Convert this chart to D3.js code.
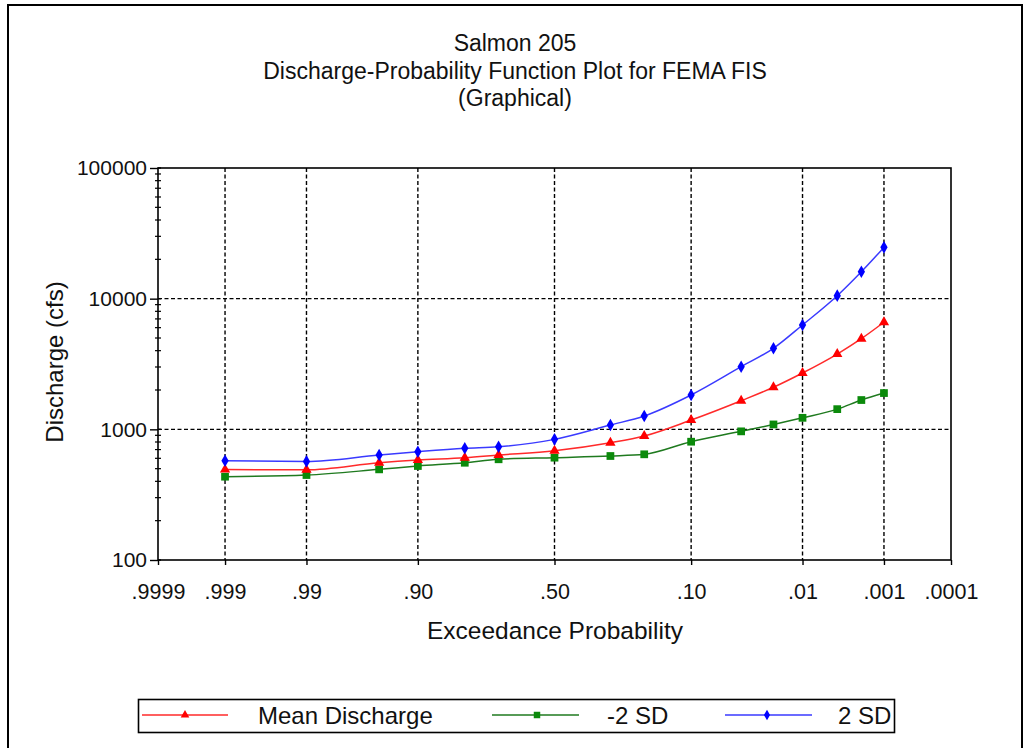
<!DOCTYPE html>
<html>
<head>
<meta charset="utf-8">
<script src="https://cdn.jsdelivr.net/npm/d3@7"></script>
<style>
  html, body { margin: 0; padding: 0; background: #fff; }
  svg { display: block; font-family: "Liberation Sans", Arial, sans-serif; }
</style>
</head>
<body>
<svg id="chart" width="1030" height="748"></svg>
<script>
// ---- data ----
const titleLines = ["Salmon 205", "Discharge-Probability Function Plot for FEMA FIS", "(Graphical)"];
const xTitle = "Exceedance Probability";
const yTitle = "Discharge (cfs)";
const xTickProbs = [0.9999, 0.999, 0.99, 0.90, 0.50, 0.10, 0.01, 0.001, 0.0001];
const xTickLabels = [".9999", ".999", ".99", ".90", ".50", ".10", ".01", ".001", ".0001"];
const xGridProbs = [0.999, 0.99, 0.90, 0.50, 0.10, 0.01, 0.001];
const yTicks = [100, 1000, 10000, 100000];
const yGrid = [1000, 10000];
const probs = [0.999, 0.99, 0.95, 0.90, 0.80, 0.70, 0.50, 0.30, 0.20, 0.10, 0.04, 0.02, 0.01, 0.004, 0.002, 0.001];
const meanDischarge = [492, 490, 555, 582, 607, 636, 686, 790, 889, 1178, 1656, 2100, 2700, 3770, 4940, 6600];
const minus2SD = [434, 447, 494, 524, 555, 590, 607, 625, 644, 804, 965, 1090, 1225, 1427, 1676, 1895];
const plus2SD = [575, 568, 636, 674, 716, 736, 838, 1079, 1265, 1832, 3015, 4170, 6290, 10540, 16070, 24700];
const seriesNames = ["Mean Discharge", "-2 SD", "2 SD"];

// inverse standard normal (Acklam)
function qnorm(p) {
  const a=[-3.969683028665376e+01,2.209460984245205e+02,-2.759285104469687e+02,1.383577518672690e+02,-3.066479806614716e+01,2.506628277459239e+00];
  const b=[-5.447609879822406e+01,1.615858368580409e+02,-1.556989798598866e+02,6.680131188771972e+01,-1.328068155288572e+01];
  const c=[-7.784894002430293e-03,-3.223964580411365e-01,-2.400758277161838e+00,-2.549732539343734e+00,4.374664141464968e+00,2.938163982698783e+00];
  const d=[7.784695709041462e-03,3.224671290700398e-01,2.445134137142996e+00,3.754408661907416e+00];
  const plow = 0.02425, phigh = 1 - plow;
  let q, r;
  if (p < plow) { q = Math.sqrt(-2*Math.log(p)); return (((((c[0]*q+c[1])*q+c[2])*q+c[3])*q+c[4])*q+c[5])/((((d[0]*q+d[1])*q+d[2])*q+d[3])*q+1); }
  if (p <= phigh) { q = p - 0.5; r = q*q; return (((((a[0]*r+a[1])*r+a[2])*r+a[3])*r+a[4])*r+a[5])*q/(((((b[0]*r+b[1])*r+b[2])*r+b[3])*r+b[4])*r+1); }
  q = Math.sqrt(-2*Math.log(1-p)); return -(((((c[0]*q+c[1])*q+c[2])*q+c[3])*q+c[4])*q+c[5])/((((d[0]*q+d[1])*q+d[2])*q+d[3])*q+1);
}
const zOf = p => qnorm(1 - p);

const svg = d3.select("#chart");
const L = 158, R = 951, T = 168, B = 560;
const FONT = "Liberation Sans, Arial, sans-serif";

// outer frame
svg.append("rect").attr("x", 8).attr("y", 5).attr("width", 1014).attr("height", 800)
  .attr("fill", "#fff").attr("stroke", "#000").attr("stroke-width", 2);

const x = d3.scaleLinear().domain([zOf(0.9999), zOf(0.0001)]).range([L, R]);
const y = d3.scaleLog().domain([100, 100000]).range([B, T]);
const xp = p => x(zOf(p));

// title
svg.append("g").selectAll("text").data(titleLines).join("text")
  .attr("x", 515).attr("y", (d, i) => 51 + i * 27.5)
  .attr("text-anchor", "middle").attr("font-size", 23).attr("fill", "#111").text(d => d);

// grid
const grid = svg.append("g").attr("stroke", "#000").attr("stroke-width", 1.4).attr("stroke-dasharray", "4,2.5");
grid.selectAll("line.vx").data(xGridProbs).join("line").attr("class", "vx")
  .attr("x1", d => xp(d)).attr("x2", d => xp(d)).attr("y1", T).attr("y2", B);
grid.selectAll("line.hy").data(yGrid).join("line").attr("class", "hy")
  .attr("x1", L).attr("x2", R).attr("y1", d => y(d)).attr("y2", d => y(d));

// plot frame
svg.append("rect").attr("x", L).attr("y", T).attr("width", R - L).attr("height", B - T)
  .attr("fill", "none").attr("stroke", "#000").attr("stroke-width", 1.6);

// x axis
const xAxis = svg.append("g").attr("transform", `translate(0,${B})`)
  .call(d3.axisBottom(x).tickValues(xTickProbs.map(zOf)).tickFormat((d, i) => xTickLabels[i]).tickSize(5).tickSizeOuter(0));
xAxis.select(".domain").remove();
xAxis.selectAll("line").attr("stroke", "#000").attr("stroke-width", 1.4);
xAxis.selectAll("text").attr("font-size", 21.5).attr("fill", "#111").attr("y", 16).attr("dy", "1.05em")
  .attr("font-family", FONT);

// y axis
const yAxis = svg.append("g").attr("transform", `translate(${L},0)`)
  .call(d3.axisLeft(y).tickValues(yTicks).tickFormat(d3.format("d")).tickSize(8).tickSizeOuter(0));
yAxis.select(".domain").remove();
yAxis.selectAll("line").attr("stroke", "#000").attr("stroke-width", 1.4);
yAxis.selectAll("text").attr("font-size", 21).attr("fill", "#111").attr("x", -11)
  .attr("font-family", FONT);
const minor = [];
for (let e = 100; e < 100000; e *= 10) for (let k = 2; k <= 9; k++) minor.push(e * k);
svg.append("g").selectAll("line").data(minor).join("line")
  .attr("x1", L - 3).attr("x2", L + 3).attr("y1", d => y(d)).attr("y2", d => y(d))
  .attr("stroke", "#000").attr("stroke-width", 1.2);
svg.append("g").selectAll("line").data(yTicks).join("line")
  .attr("x1", L).attr("x2", L + 3).attr("y1", d => y(d)).attr("y2", d => y(d))
  .attr("stroke", "#000").attr("stroke-width", 1.4);

// axis titles
svg.append("text").attr("x", 555).attr("y", 639).attr("text-anchor", "middle")
  .attr("font-size", 24.5).attr("fill", "#111").text(xTitle);
svg.append("text").attr("transform", "translate(63,362) rotate(-90)").attr("text-anchor", "middle")
  .attr("font-size", 24).attr("fill", "#111").text(yTitle);

// series
const series = [
  { name: seriesNames[0], values: meanDischarge, line: "#ff2a2a", mark: "#ff0000", sym: d3.symbolTriangle, size: 46 },
  { name: seriesNames[1], values: minus2SD, line: "#1f7a1f", mark: "#0b8a0b", sym: d3.symbolSquare, size: 60 },
  { name: seriesNames[2], values: plus2SD, line: "#3a3aff", mark: "#0000ff", sym: d3.symbolDiamond, size: 46 }
];
const lineGen = d3.line().x(d => xp(d.p)).y(d => y(d.v)).curve(d3.curveMonotoneX);
const drawOrder = [series[1], series[0], series[2]];
drawOrder.forEach(s => {
  const pts = probs.map((p, i) => ({ p, v: s.values[i] }));
  svg.append("path").datum(pts).attr("d", lineGen).attr("fill", "none")
    .attr("stroke", s.line).attr("stroke-width", 1.5);
  svg.append("g").selectAll("path").data(pts).join("path")
    .attr("transform", d => `translate(${xp(d.p)},${y(d.v)})`)
    .attr("d", d3.symbol().type(s.sym).size(s.size)).attr("fill", s.mark);
});

// legend
svg.append("rect").attr("x", 138.5).attr("y", 699.5).attr("width", 756).attr("height", 33)
  .attr("fill", "#fff").attr("stroke", "#000").attr("stroke-width", 1.6);
const legendPos = [
  { x1: 142, x2: 228, mx: 185, tx: 258 },
  { x1: 492, x2: 579, mx: 537, tx: 607 },
  { x1: 725, x2: 812, mx: 767, tx: 838 }
];
series.forEach((s, i) => {
  const lp = legendPos[i];
  svg.append("line").attr("x1", lp.x1).attr("x2", lp.x2).attr("y1", 715).attr("y2", 715)
    .attr("stroke", s.line).attr("stroke-width", 1.5);
  svg.append("path").attr("transform", `translate(${lp.mx},715)`)
    .attr("d", d3.symbol().type(s.sym).size(s.size * 0.7)).attr("fill", s.mark);
  svg.append("text").attr("x", lp.tx).attr("y", 724).attr("font-size", 24).attr("fill", "#111").text(s.name);
});
</script>
</body>
</html>
